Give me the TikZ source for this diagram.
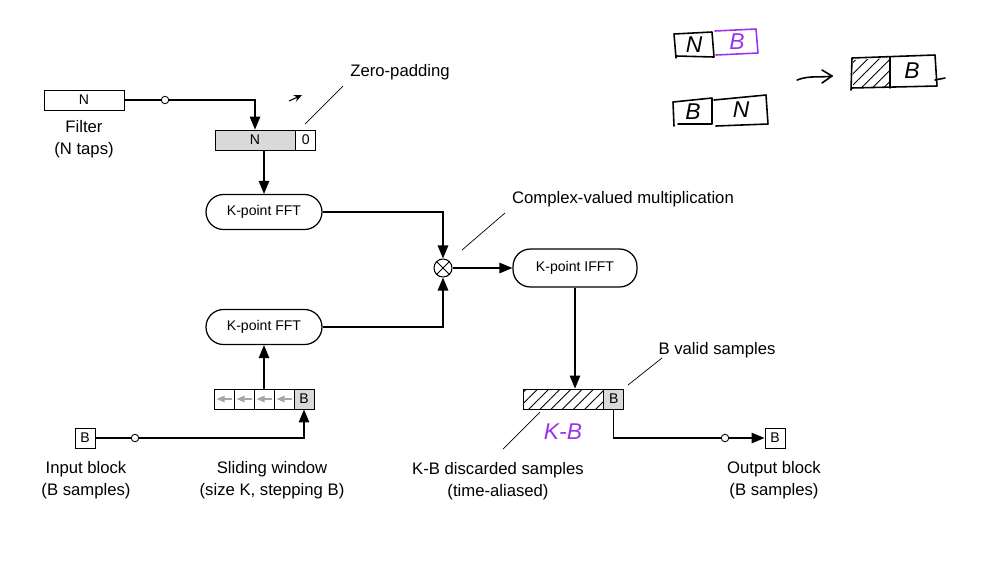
\documentclass[tikz,border=0pt]{standalone}
\usepackage{fontspec}
\setmainfont{Liberation Sans}
\usetikzlibrary{arrows.meta,positioning,patterns.meta,calc}
\definecolor{handpurple}{HTML}{9933EE}

\begin{document}
\begin{tikzpicture}[x=0.02cm,y=-0.02cm,>={Triangle[length=2.6mm,width=2.1mm]},
  every node/.style={font=\fontsize{9.5}{12.5}\selectfont},
  cell/.style={draw,line width=0.5pt,minimum height=0.4cm,inner sep=0pt,font=\fontsize{8}{9}\selectfont},
  fftbox/.style={draw,line width=0.7pt,rounded corners=0.35cm,minimum width=2.32cm,minimum height=0.7cm,font=\fontsize{8}{9}\selectfont},
  tap/.style={circle,draw,fill=white,line width=0.5pt,inner sep=0pt,minimum size=1.5mm},
  wire/.style={line width=0.7pt},
  leader/.style={line width=0.4pt},
  hatch/.style={pattern={Lines[angle=45,distance=4.5pt,line width=0.5pt]}},
  pen/.style={line width=0.9pt,line join=round,line cap=round},
  handtext/.style={font=\fontsize{13}{13}\selectfont\itshape}]
  \useasboundingbox (0,0) rectangle (988,569);

  % filter and zero-padding
  \node[cell,minimum width=1.6cm] (filt) at (84,100) {N};
  \node[align=center] (filtlbl) at (84,139) {Filter\\(N taps)};
  \node[tap] (t1) at (165,100) {};
  \node[cell,fill=gray!30,minimum width=1.6cm] (zpN) at (255,140) {N};
  \node[cell,minimum width=0.4cm,right=0pt of zpN] (zp0) {0};
  \draw[wire] (filt.east) -- (t1);
  \draw[wire,->] (t1) -| (zpN.north);
  \node (zplbl) at (400,72) {Zero-padding};
  \coordinate (zpa) at (305,124);
  \coordinate (zpb) at (343,86);
  \draw[leader] (zpa) -- (zpb);
  \coordinate (sa) at (289,101);
  \coordinate (sb) at (302,95);
  \draw[line width=0.6pt,-{Stealth[length=1.6mm,width=1.4mm]}] (sa) -- (sb);

  % FFT branches
  \node[fftbox] (fft1) at (264,212) {K-point FFT};
  \draw[wire,->] (fft1.north |- zpN.south) -- (fft1.north);
  \node[circle,draw,line width=0.6pt,minimum size=0.36cm,inner sep=0pt] (mul) at (443,268) {};
  \draw[line width=0.5pt] (mul.45) -- (mul.225) (mul.135) -- (mul.315);
  \draw[wire,->] (fft1.east) -| (mul.north);
  \node[fftbox] (fft2) at (264,327) {K-point FFT};
  \draw[wire,->] (fft2.east) -| (mul.south);
  \node[fftbox,minimum width=2.48cm,minimum height=0.76cm] (ifft) at (575,268) {K-point IFFT};
  \draw[wire,->] (mul.east) -- (ifft.west);
  \node (mullbl) at (623,199) {Complex-valued multiplication};
  \coordinate (ma) at (462,250);
  \coordinate (mb) at (505,213);
  \draw[leader] (ma) -- (mb);

  % input and sliding window
  \node[cell,minimum width=0.4cm] (inb) at (85,438) {B};
  \node[align=center] (inlbl) at (86,480) {Input block\\(B samples)};
  \node[tap] (t2) at (135,438) {};
  \foreach \i in {1,...,4}{
    \node[cell,minimum width=0.4cm] (sw\i) at ({204+20*\i},399) {};
    \draw[gray!70,line width=0.6pt,-{Triangle[length=1.6mm,width=1.3mm]}] ($(sw\i.east)+(-2,0)$) -- ($(sw\i.west)+(3,0)$);
  }
  \node[cell,minimum width=0.4cm,fill=gray!30] (sw5) at (304,399) {B};
  \node[align=center] (swlbl) at (272,480) {Sliding window\\(size K, stepping B)};
  \draw[wire] (inb.east) -- (t2);
  \draw[wire,->] (t2) -| (sw5.south);
  \draw[wire,->] (sw3.north) -- (fft2.south);

  % output side
  \node[cell,minimum width=1.6cm,hatch] (disc) at (563,399) {};
  \node[cell,minimum width=0.4cm,fill=gray!30,right=0pt of disc] (valid) {B};
  \draw[wire,->] (ifft.south) -- (ifft.south |- disc.north);
  \node (validlbl) at (717,350) {B valid samples};
  \coordinate (va) at (628,385);
  \coordinate (vb) at (662,358);
  \draw[leader] (va) -- (vb);
  \node[align=center] (disclbl) at (498,481) {K-B discarded samples\\(time-aliased)};
  \coordinate (da) at (540,412);
  \coordinate (db) at (503,449);
  \draw[leader] (da) -- (db);
  \node[tap] (t3) at (725,438) {};
  \node[cell,minimum width=0.4cm] (outb) at (775,438) {B};
  \node[align=center] (outlbl) at (774,480) {Output block\\(B samples)};
  \draw[wire] (valid.south) |- (t3);
  \draw[wire,->] (t3) -- (outb.west);

  % handwritten notes
  \node[handtext,handpurple] (kb) at (563,432) {K-B};
  \draw[pen] (676,58) -- (674,34) -- (712,32) -- (714,57) -- (676,56);
  \node[handtext] (hn1) at (694,45) {N};
  \draw[pen,handpurple] (715,31) -- (756,29) -- (758,53) -- (716,55);
  \node[handtext,handpurple] (hb1) at (737,42) {B};
  \draw[pen] (674,126) -- (673,102) -- (712,98) -- (712,124) -- (678,124);
  \node[handtext] (hb2) at (693,112) {B};
  \draw[pen] (714,100) -- (766,95) -- (768,124) -- (716,126);
  \node[handtext] (hn2) at (741,110) {N};
  \draw[pen] (797,80) .. controls (810,75) and (820,78) .. (832,76);
  \draw[pen] (822,70) -- (832,76) -- (822,83);
  \fill[hatch] (853,60) -- (889,58) -- (889,87) -- (853,87) -- cycle;
  \draw[pen] (851,90) -- (852,58) -- (935,55) -- (937,86) -- (851,88);
  \draw[pen] (890,57) -- (890,88);
  \draw[pen] (935,80) -- (945,78);
  \node[handtext] (hb3) at (912,71) {B};
\end{tikzpicture}
\end{document}
